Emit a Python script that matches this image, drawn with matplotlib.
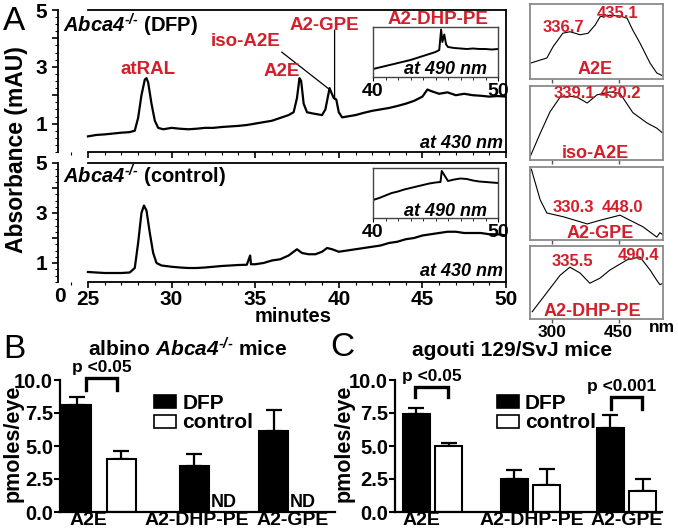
import matplotlib
matplotlib.use('Agg')
import matplotlib.pyplot as plt
from matplotlib.ticker import MultipleLocator
from matplotlib.patches import Patch
import numpy as np

plt.rcParams['font.family'] = ['Liberation Sans', 'DejaVu Sans']
plt.rcParams['font.weight'] = 'bold'
plt.rcParams['mathtext.fontset'] = 'custom'
plt.rcParams['mathtext.it'] = 'Liberation Sans:italic:bold'
plt.rcParams['mathtext.rm'] = 'Liberation Sans:italic:bold'
plt.rcParams['mathtext.bf'] = 'Liberation Sans:bold'

# ---------------- data ----------------
dfp_430_t = [25.0, 25.5, 26.0, 26.5, 27.0, 27.5, 27.8, 28.0, 28.2, 28.4, 28.5, 28.6, 28.8, 29.0, 29.2, 29.5,
             30.0, 30.5, 31.0, 31.5, 32.0, 32.5, 33.0, 33.5, 34.0, 34.5, 35.0, 35.5, 36.0, 36.5, 37.0, 37.3,
             37.5, 37.65, 37.75, 37.9, 38.1, 38.5, 39.0, 39.2, 39.45, 39.55, 39.7, 39.85, 40.0, 40.2, 40.5,
             41.0, 41.5, 42.0, 42.5, 43.0, 43.5, 44.0, 44.5, 45.0, 45.3, 45.5, 46.0, 46.5, 47.0, 47.5, 48.0,
             48.5, 49.0, 49.5, 50.0]
dfp_430_v = [0.55, 0.6, 0.62, 0.65, 0.68, 0.7, 0.75, 1.2, 2.0, 2.55, 2.6, 2.45, 1.7, 1.1, 0.85, 0.8,
             0.85, 0.82, 0.8, 0.82, 0.85, 0.85, 0.88, 0.9, 0.92, 0.95, 1.0, 1.05, 1.1, 1.2, 1.3, 1.4,
             1.9, 2.6, 2.5, 1.7, 1.4, 1.35, 1.3, 1.5, 2.25, 2.1, 1.9, 1.85, 1.4, 1.22, 1.25,
             1.3, 1.38, 1.45, 1.5, 1.55, 1.62, 1.7, 1.8, 1.95, 2.2, 2.15, 2.05, 2.1, 2.0, 2.05, 2.0,
             1.98, 1.95, 1.97, 1.95]

ctl_430_t = [25.0, 25.5, 26.0, 26.5, 27.0, 27.5, 27.8, 28.0, 28.2, 28.35, 28.5, 28.7, 28.9, 29.1, 29.4,
             30.0, 30.5, 31.0, 31.5, 32.0, 32.5, 33.0, 33.5, 34.0, 34.5, 34.7, 34.75, 35.0, 35.5, 36.0,
             36.5, 37.0, 37.3, 37.5, 37.8, 38.2, 38.6, 39.0, 39.3, 39.6, 40.0, 40.5, 41.0, 41.5, 42.0,
             42.5, 43.0, 43.5, 44.0, 44.5, 45.0, 45.5, 46.0, 46.5, 47.0, 47.5, 48.0, 48.5, 49.0, 49.5, 50.0]
ctl_430_v = [0.64, 0.62, 0.6, 0.6, 0.6, 0.62, 0.8, 1.8, 3.0, 3.3, 3.1, 2.2, 1.4, 1.0, 0.9,
             0.85, 0.82, 0.8, 0.8, 0.82, 0.85, 0.88, 0.9, 0.92, 0.93, 1.3, 0.95, 0.95, 1.0, 1.1,
             1.15, 1.3, 1.45, 1.55, 1.4, 1.35, 1.35, 1.45, 1.6, 1.55, 1.45, 1.5, 1.55, 1.6, 1.65,
             1.7, 1.8, 1.85, 1.95, 2.0, 2.1, 2.15, 2.2, 2.25, 2.25, 2.2, 2.2, 2.2, 2.15, 2.15, 2.1]

dfp_490_t = [40.0, 40.5, 41.0, 41.5, 42.0, 42.5, 43.0, 43.5, 44.0, 44.5, 45.0, 45.3, 45.45, 45.55, 45.7,
             45.85, 46.0, 46.5, 47.0, 47.5, 48.0, 48.5, 49.0, 49.5, 50.0]
dfp_490_v = [0.16, 0.19, 0.22, 0.25, 0.28, 0.31, 0.34, 0.38, 0.42, 0.46, 0.5, 0.54, 0.95, 0.7, 0.85,
             0.65, 0.6, 0.58, 0.57, 0.56, 0.57, 0.56, 0.56, 0.55, 0.56]

ctl_490_t = [40.0, 40.5, 41.0, 41.5, 42.0, 42.5, 43.0, 43.5, 44.0, 44.5, 45.0, 45.4, 45.5, 46.0, 46.5,
             47.0, 47.5, 48.0, 48.5, 49.0, 49.5, 50.0]
ctl_490_v = [0.36, 0.4, 0.45, 0.5, 0.53, 0.57, 0.6, 0.63, 0.66, 0.69, 0.71, 0.72, 0.94, 0.74, 0.77,
             0.79, 0.78, 0.75, 0.73, 0.72, 0.71, 0.7]

spec_a2e_nm = [250, 288, 302, 324, 340, 352, 363, 381, 397, 408, 430, 453, 469, 482, 498, 521, 536, 550]
spec_a2e_v = [0.21, 0.28, 0.43, 0.61, 0.63, 0.61, 0.59, 0.61, 0.72, 0.83, 0.85, 0.84, 0.81, 0.65, 0.48, 0.21, 0.08, 0.04]
spec_iso_nm = [250, 273, 295, 318, 340, 356, 379, 401, 430, 453, 482, 514, 536, 550]
spec_iso_v = [0.04, 0.36, 0.65, 0.85, 0.86, 0.85, 0.77, 0.88, 0.92, 0.9, 0.64, 0.5, 0.43, 0.36]
spec_gpe_nm = [253, 273, 288, 324, 363, 379, 408, 453, 505, 536, 543, 550]
spec_gpe_v = [0.97, 0.55, 0.37, 0.32, 0.25, 0.22, 0.27, 0.34, 0.18, 0.04, 0.1, 0.07]
spec_dhp_nm = [255, 284, 318, 340, 363, 385, 408, 430, 469, 498, 521, 536, 543, 550]
spec_dhp_v = [0.1, 0.33, 0.6, 0.71, 0.63, 0.49, 0.56, 0.67, 0.81, 0.85, 0.67, 0.53, 0.47, 0.49]

spec_names = ['A2E', 'iso-A2E', 'A2-GPE', 'A2-DHP-PE']
spec_peaks = [['336.7', '435.1'], ['339.1', '430.2'], ['330.3', '448.0'], ['335.5', '490.4']]

categories = ['A2E', 'A2-DHP-PE', 'A2-GPE']
albino_dfp = [8.1, 3.45, 6.15]
albino_dfp_err = [0.6, 0.95, 1.6]
albino_ctl = [4.05, np.nan, np.nan]
albino_ctl_err = [0.55, np.nan, np.nan]
agouti_dfp = [7.45, 2.5, 6.4]
agouti_dfp_err = [0.45, 0.65, 0.95]
agouti_ctl = [5.0, 2.05, 1.6]
agouti_ctl_err = [0.2, 1.2, 0.9]

# ---------------- layout helpers ----------------
W, H = 678, 532
fig = plt.figure(figsize=(W / 100, H / 100), dpi=100)
RED = '#d21f2b'
GENO = r'$Abca4^{\text{-/-}}$'


def add_ax(x0, y0, x1, y1):
    return fig.add_axes([x0 / W, 1 - y1 / H, (x1 - x0) / W, (y1 - y0) / H])


def T(px, py, s, **kw):
    kw.setdefault('ha', 'center')
    kw.setdefault('va', 'center')
    return fig.text(px / W, 1 - py / H, s, **kw)


def chrom_axes(y0, y1, ylo, t, v, label_bottom):
    ax = add_ax(58, y0, 506, y1)
    ax.set_xlim(25 - 30 / 16.75, 50)
    ax.set_ylim(ylo, 5)
    ax.plot(t, v, color='black', lw=1.6)
    for s in ax.spines.values():
        s.set_linewidth(1.3)
    ax.spines['bottom'].set_bounds(25, 50)
    ax.spines['top'].set_bounds(25, 50)
    ax.set_xticks([25, 30, 35, 40, 45, 50])
    ax.xaxis.set_minor_locator(MultipleLocator(1))
    ax.set_yticks([1, 2, 3, 4, 5], ['1', '', '3', '', '5'])
    ax.yaxis.set_minor_locator(MultipleLocator(0.25))
    ax.tick_params(axis='both', which='major', direction='out', length=4, width=1.2,
                   labelsize=15, pad=2)
    ax.tick_params(axis='both', which='minor', direction='out', length=2, width=0.8)
    ax.tick_params(axis='x', labelbottom=label_bottom, pad=2)
    ax.tick_params(axis='y', pad=4)
    return ax


ax_top = chrom_axes(10, 152, 0, dfp_430_t, dfp_430_v, False)
ax_bot = chrom_axes(163, 282, 0.24, ctl_430_t, ctl_430_v, True)
T(60, 297, '0', fontsize=15)

# annotations on top chromatogram
ax_top.annotate('', xy=(39.45, 2.2), xytext=(25 + (282 - 88) / 16.75, 5 - (52 - 10) / 28.4),
                arrowprops=dict(arrowstyle='-', color='black', lw=0.9, shrinkA=0, shrinkB=0))
ax_top.annotate('', xy=(39.75, 1.85), xytext=(39.75, 5 - (30 - 10) / 28.4),
                arrowprops=dict(arrowstyle='-', color='black', lw=0.9, shrinkA=0, shrinkB=0))


def inset(y0, y1, t, v):
    ax = add_ax(373, y0, 498, y1)
    ax.set_xlim(40, 50)
    ax.set_ylim(0, 1)
    ax.plot(t, v, color='black', lw=1.4)
    for s in ax.spines.values():
        s.set_linewidth(1.0)
        s.set_color('#444444')
    ax.set_yticks([])
    ax.set_xticks([40, 50])
    ax.xaxis.set_minor_locator(MultipleLocator(1))
    ax.tick_params(axis='x', which='major', direction='out', length=3, labelsize=14, pad=1)
    ax.tick_params(axis='x', which='minor', direction='out', length=2)
    return ax


inset(27, 77, dfp_490_t, dfp_490_v)
inset(168, 218, ctl_490_t, ctl_490_v)

# texts panel A
T(14, 22, 'A', fontsize=24, fontweight='normal')
T(17, 150, 'Absorbance (mAU)', fontsize=16.5, rotation=90)
T(293, 317, 'minutes', fontsize=14.5)
T(63, 25, GENO + ' (DFP)', fontsize=14.5, ha='left')
T(63, 176, GENO + ' (control)', fontsize=14.5, ha='left')
T(148, 70, 'atRAL', fontsize=13.5, color=RED)
T(282, 72, 'A2E', fontsize=13.5, color=RED)
T(246, 42, 'iso-A2E', fontsize=13.5, color=RED)
T(324, 25, 'A2-GPE', fontsize=13.5, color=RED)
T(438, 19, 'A2-DHP-PE', fontsize=13.5, color=RED)
T(487, 70, 'at 490 nm', fontsize=13, style='italic', ha='right')
T(487, 211, 'at 490 nm', fontsize=13, style='italic', ha='right')
T(503, 143, 'at 430 nm', fontsize=13, style='italic', ha='right')
T(503, 272, 'at 430 nm', fontsize=13, style='italic', ha='right')

# ---------------- spectra ----------------
spec_boxes = [(4, 79), (86, 160), (167, 240), (246, 319)]
spec_data = [(spec_a2e_nm, spec_a2e_v), (spec_iso_nm, spec_iso_v),
             (spec_gpe_nm, spec_gpe_v), (spec_dhp_nm, spec_dhp_v)]
peak_pos = [[(563, 27), (618, 13)], [(574, 93), (620, 93)], [(573, 207), (623, 207)],
            [(572, 262), (638, 255)]]
name_pos = [(595, 70), (595, 153), (600, 233), (592, 312)]
for i, ((y0, y1), (nm, val)) in enumerate(zip(spec_boxes, spec_data)):
    ax = add_ax(530, y0, 663, y1)
    ax.plot(nm, val, color='black', lw=0.8)
    ax.set_xlim(250, 550)
    ax.set_ylim(0, 1)
    for s in ax.spines.values():
        s.set_color('#8a8a8a')
        s.set_linewidth(1.3)
    ax.set_yticks([])
    ax.set_xticks([300, 450])
    ax.tick_params(axis='x', direction='out', length=3, width=1, color='#555555',
                   labelbottom=(i == 3), labelsize=12.5, pad=1)
    for lab, (px, py) in zip(spec_peaks[i], peak_pos[i]):
        T(px, py, lab, fontsize=12, color=RED)
    T(name_pos[i][0], name_pos[i][1], spec_names[i], fontsize=13, color=RED)
T(662, 328, 'nm', fontsize=12.5)


# ---------------- bar panels ----------------
def bar_panel(x0, x1, dfp, dfp_err, ctl, ctl_err, group_c, off, w, lab_pos):
    ax = add_ax(x0, 380, x1, 512)
    ax.set_xlim(0, x1 - x0)
    ax.set_ylim(0, 10)
    xd = np.array(group_c, dtype=float)
    xc = xd + off
    ax.bar(xd, dfp, width=w, color='black', edgecolor='black', lw=1.5, zorder=2)
    ax.errorbar(xd, dfp, yerr=[np.zeros(len(dfp)), dfp_err], fmt='none', ecolor='black',
                elinewidth=1.6, capsize=5.5, capthick=1.6, zorder=3)
    ok = ~np.isnan(np.array(ctl, dtype=float))
    ctl_a = np.array(ctl, dtype=float)[ok]
    cerr = np.array(ctl_err, dtype=float)[ok]
    ax.bar(xc[ok], ctl_a, width=w, color='white', edgecolor='black', lw=1.5, zorder=2)
    ax.errorbar(xc[ok], ctl_a, yerr=[np.zeros(len(ctl_a)), cerr], fmt='none', ecolor='black',
                elinewidth=1.6, capsize=5.5, capthick=1.6, zorder=1)
    for k in np.where(~ok)[0]:
        ax.text(xc[k] - 15, 0.75, 'ND', ha='center', va='center', fontsize=13)
    ax.spines['top'].set_visible(False)
    ax.spines['right'].set_visible(False)
    ax.spines['left'].set_linewidth(1.6)
    ax.spines['bottom'].set_linewidth(1.6)
    ax.set_yticks([0, 2.5, 5, 7.5, 10], ['0.0', '2.5', '5.0', '7.5', '10.0'])
    ax.set_xticks(lab_pos, categories)
    ax.tick_params(axis='y', direction='out', length=4, width=1.5, labelsize=14.5, pad=1)
    ax.tick_params(axis='x', length=0, labelsize=14, pad=0)
    return ax


def bracket(ax, xa, xb, ytop, yleg, txt, tx, ty):
    ax.plot([xa, xa, xb, xb], [yleg, ytop, ytop, yleg], color='black', lw=2.4,
            clip_on=False, solid_joinstyle='miter')
    ax.text(tx, ty, txt, ha='center', va='center', fontsize=12.5, clip_on=False)


axB = bar_panel(60, 335, albino_dfp, albino_dfp_err, albino_ctl, albino_ctl_err,
                [16.5, 134, 213.5], 44.5, 29, [28, 137, 233])
bracket(axB, 26, 57, 10.15, 9.25, 'p <0.05', 42, 10.95)
axC = bar_panel(395, 662, agouti_dfp, agouti_dfp_err, agouti_ctl, agouti_ctl_err,
                [21, 119, 215], 32.5, 27, [26, 137, 232])
bracket(axC, 20, 53, 9.47, 8.7, 'p <0.05', 37, 10.25)
bracket(axC, 216, 247, 8.7, 7.8, 'p <0.001', 227, 9.5)

handles = [Patch(facecolor='black', edgecolor='black', lw=1.2),
           Patch(facecolor='white', edgecolor='black', lw=1.2)]
for lx in (154, 497):
    fig.legend(handles, ['DFP', 'control'], loc='upper left',
               bbox_to_anchor=(lx / W, 1 - 394 / H), frameon=False, fontsize=15,
               handlelength=1.05, handleheight=0.58, handletextpad=0.3,
               labelspacing=0.02, borderpad=0, borderaxespad=0)

T(14, 350, 'B', fontsize=24, fontweight='normal')
T(342, 348, 'C', fontsize=24, fontweight='normal')
T(188, 349, 'albino ' + GENO + ' mice', fontsize=15)
T(512, 351, 'agouti 129/SvJ mice', fontsize=15)
T(13, 443, 'pmoles/eye', fontsize=15.5, rotation=90)
T(344, 443, 'pmoles/eye', fontsize=15.5, rotation=90)

fig.savefig('out.png', dpi=100)
